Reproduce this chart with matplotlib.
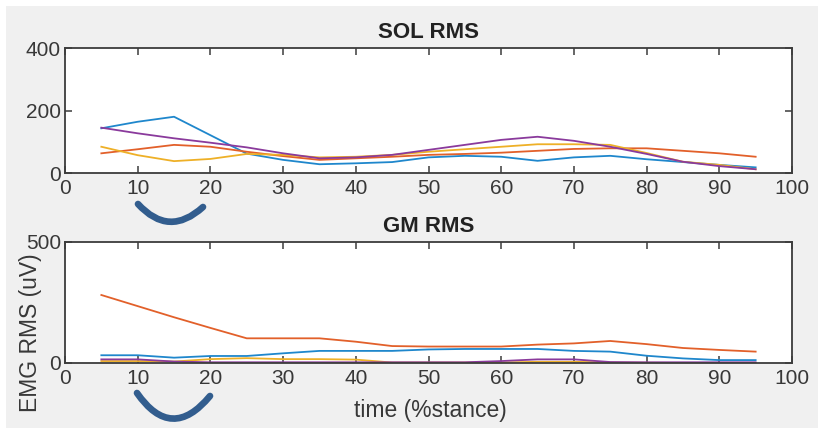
import matplotlib
matplotlib.use("Agg")
import matplotlib.pyplot as plt
from matplotlib.patches import Rectangle, FancyArrowPatch

plt.rcParams['font.family'] = ['Liberation Sans', 'DejaVu Sans']

# stance percentage sample points
stance = [5, 10, 15, 20, 25, 30, 35, 40, 45, 50,
          55, 60, 65, 70, 75, 80, 85, 90, 95]

# SOL RMS (uV), one list per trial
sol_t1 = [143, 164, 180, 121, 62, 42, 28, 31, 35, 50,
          55, 52, 39, 50, 55, 44, 35, 26, 18]
sol_t2 = [63, 76, 90, 84, 68, 54, 42, 47, 52, 58,
          61, 65, 71, 77, 79, 79, 71, 63, 52]
sol_t3 = [84, 57, 38, 45, 61, 58, 50, 52, 58, 68,
          76, 84, 92, 92, 90, 64, 36, 26, 12]
sol_t4 = [145, 127, 111, 97, 82, 63, 47, 50, 58, 74,
          90, 106, 116, 103, 84, 61, 36, 22, 12]

# GM RMS (uV), one list per trial
gm_t1 = [32, 32, 22, 29, 29, 40, 50, 50, 50, 56,
         58, 58, 58, 50, 47, 30, 19, 12, 12]
gm_t2 = [281, 235, 189, 145, 102, 102, 102, 88, 70, 68,
         68, 68, 76, 81, 91, 78, 62, 54, 47]
gm_t3 = [8, 8, 6, 16, 20, 16, 16, 14, 2, 2,
         2, 2, 5, 5, 2, 1, 0, 0, 0]
gm_t4 = [15, 15, 6, 3, 3, 3, 3, 3, 3, 3,
         3, 8, 15, 15, 4, 3, 3, 3, 3]

x_ticks = [0, 10, 20, 30, 40, 50, 60, 70, 80, 90, 100]
sol_yticks = [0, 200, 400]
gm_yticks = [0, 500]

colors = ['#1f87cc', '#e2602a', '#eeb027', '#8a3a9c']

W, H = 818, 428
fig = plt.figure(figsize=(W / 100, H / 100), dpi=100, facecolor='white')
# grey figure panel
fig.patches.append(Rectangle((6 / W, 0), 1 - 6 / W, 1 - 6 / H,
                             transform=fig.transFigure, facecolor='#f0f0f0',
                             edgecolor='none', zorder=-10))

txt = '#383838'
edge = '#3c3c3c'


def style(ax, yticks, ylim):
    ax.set_xlim(0, 100)
    ax.set_ylim(*ylim)
    ax.set_xticks(x_ticks)
    ax.set_yticks(yticks)
    ax.tick_params(direction='in', length=5, width=1.1, colors=edge,
                   labelcolor=txt, labelsize=15, top=True, right=True, pad=3)
    ax.tick_params(axis='x', pad=4)
    for s in ax.spines.values():
        s.set_color(edge)
        s.set_linewidth(1.3)
    ax.set_facecolor('white')


ax1 = fig.add_axes([65 / W, 1 - 173 / H, 727 / W, 125 / H])
for ys, c in zip([sol_t1, sol_t2, sol_t3, sol_t4], colors):
    ax1.plot(stance, ys, color=c, lw=1.3)
style(ax1, sol_yticks, (0, 400))
ax1.set_title('SOL RMS', fontsize=16, fontweight='bold', color='#222222', pad=7)

ax2 = fig.add_axes([65 / W, 1 - 363 / H, 727 / W, 121 / H])
for ys, c in zip([gm_t1, gm_t2, gm_t3, gm_t4], colors):
    ax2.plot(stance, ys, color=c, lw=1.3)
style(ax2, gm_yticks, (0, 500))
ax2.set_title('GM RMS', fontsize=16, fontweight='bold', color='#222222', pad=7)

fig.text(430 / W, 1 - 410 / H, 'time (%stance)', fontsize=16.5, color=txt,
         ha='center', va='center')
fig.text(31 / W, 1 - 333 / H, 'EMG RMS (uV)', fontsize=16.5, color=txt,
         ha='center', va='center', rotation=90)

# curved arrows under the 10-20 % region
arrow_color = '#325d8e'
for (x0, y0), (x1, y1), rad in [((138, 204), (203, 207), 0.5),
                                ((137, 393), (210, 396), 0.66)]:
    arr = FancyArrowPatch((x0 / W, 1 - y0 / H), (x1 / W, 1 - y1 / H),
                          transform=fig.transFigure,
                          connectionstyle=f'arc3,rad={rad}',
                          arrowstyle='-', lw=4.8, color=arrow_color,
                          capstyle='round', shrinkA=0, shrinkB=0)
    fig.patches.append(arr)

fig.savefig('out.png', dpi=100, facecolor=fig.get_facecolor())
